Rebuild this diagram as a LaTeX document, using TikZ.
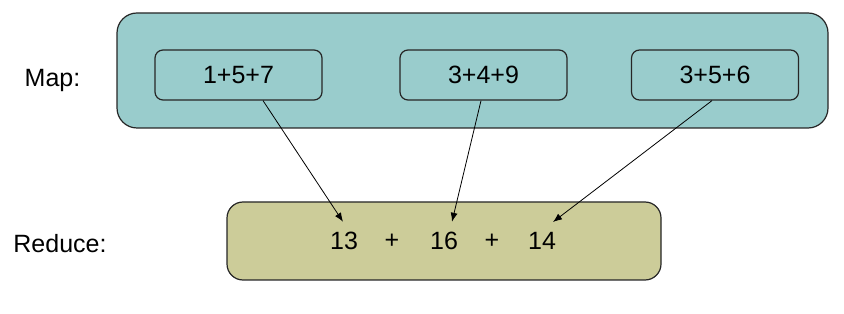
\documentclass[tikz,border=0pt]{standalone}
\usepackage{fontspec}
\setmainfont{Liberation Sans}
\usetikzlibrary{positioning,arrows.meta}

\begin{document}
\begin{tikzpicture}[x=0.5pt, y=-0.5pt, font=\fontsize{12.5}{15}\selectfont,
  phasebox/.style={draw=black!85, line width=0.6pt, rounded corners=10pt, minimum width=355.5pt, minimum height=57.5pt},
  sumbox/.style={draw=black!85, line width=0.6pt, rounded corners=4pt, minimum width=83.5pt, minimum height=25pt},
  flow/.style={-{Latex[length=4.5pt,width=3.5pt]}, line width=0.4pt}]

\useasboundingbox (0,0) rectangle (844,314);

% Boxes
\node[phasebox, fill={rgb,255:red,153;green,204;blue,204}] (mapbox) at (472.5,70.5) {};
\node[phasebox, fill={rgb,255:red,204;green,204;blue,153}, minimum width=217pt, minimum height=39pt, rounded corners=8pt] (reducebox) at (444,241) {};

% Map sums
\node[sumbox] (sumA) at (238.5,75) {1+5+7};
\node[sumbox] (sumB) at (483.5,75) {3+4+9};
\node[sumbox] (sumC) at (715,75) {3+5+6};

% Reduce terms
\node[inner sep=3pt] (resA) at (344,241) {13};
\node[inner sep=3pt] (plusA) at (392,241) {+};
\node[inner sep=3pt] (resB) at (444,241) {16};
\node[inner sep=3pt] (plusB) at (492,241) {+};
\node[inner sep=3pt] (resC) at (542,241) {14};

% Labels
\node[anchor=base] (maplabel) at (52.5,87) {Map:};
\node[anchor=base] (reducelabel) at (60,253) {Reduce:};

% Arrows
\draw[flow] ([xshift=12.25pt]sumA.south) -- ([xshift=-0.5pt,yshift=2pt]resA.north);
\draw[flow] ([xshift=-1.25pt]sumB.south) -- ([xshift=4pt,yshift=2pt]resB.north);
\draw[flow] ([xshift=-1.5pt]sumC.south) -- ([xshift=5.5pt,yshift=2pt]resC.north);

\end{tikzpicture}
\end{document}
